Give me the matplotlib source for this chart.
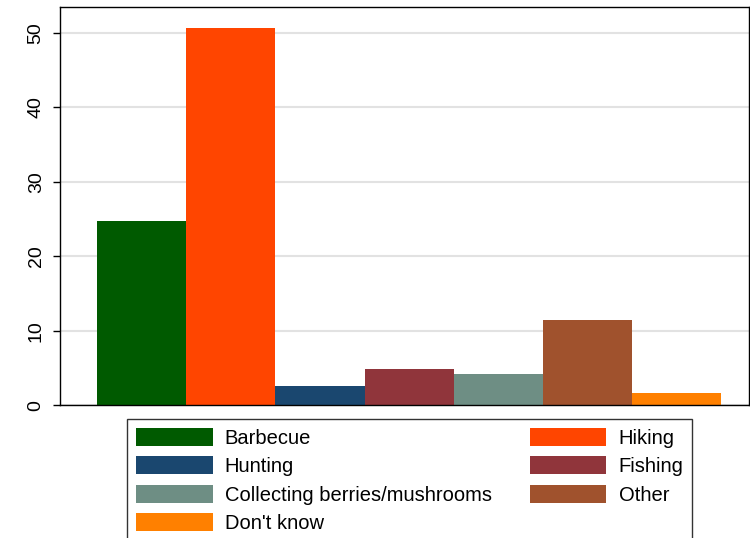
import numpy as np
import matplotlib.pyplot as plt
from matplotlib.patches import Patch

plt.rcParams['font.family'] = ['Liberation Sans', 'DejaVu Sans']

# categories and values (percent)
categories = ['Barbecue', 'Hiking', 'Hunting', 'Fishing',
              'Collecting berries/mushrooms', 'Other', "Don't know"]
values = [24.7, 50.7, 2.55, 4.8, 4.2, 11.4, 1.6]
colors = ['#005a00', '#ff4500', '#1a476f', '#90353b', '#6e8e84', '#a0522d', '#ff8000']
yticks = [0, 10, 20, 30, 40, 50]

fig = plt.figure(figsize=(7.5, 5.38), dpi=100)
ax = fig.add_axes([0.08, 0.247, 0.919, 0.74])

x = np.arange(len(categories))
ax.bar(x, values, width=1.0, align='edge', color=colors, zorder=2)

ax.set_xlim(-0.416, 7.315)
ax.set_ylim(0, 53.5)
ax.set_yticks(yticks)
ax.set_yticklabels([str(t) for t in yticks], rotation=90, va='center', fontsize=14)
ax.set_xticks([])
ax.tick_params(axis='y', length=5, width=1, pad=6, color='black')
ax.yaxis.grid(True, color='#e2e2e2', linewidth=1.5, zorder=0)
ax.set_axisbelow(True)
for s in ax.spines.values():
    s.set_color('black')
    s.set_linewidth(1.0)

# legend in row-wise order: col 1 then col 2 for matplotlib
order = [0, 2, 4, 6, 1, 3, 5]
handles = [Patch(facecolor=colors[i], edgecolor='none') for i in order]
labels = [categories[i] for i in order]
leg = fig.legend(handles, labels, ncol=2, loc='upper left',
                 bbox_to_anchor=(127 / 750, 1 - 419 / 538),
                 fontsize=14.5, frameon=True, fancybox=False,
                 handlelength=3.8, handleheight=1.0, handletextpad=0.6,
                 labelspacing=0.42, columnspacing=1.9, borderpad=0.45,
                 borderaxespad=0)
leg.get_frame().set_edgecolor('black')
leg.get_frame().set_linewidth(1.0)

fig.savefig('out.png', dpi=100)
